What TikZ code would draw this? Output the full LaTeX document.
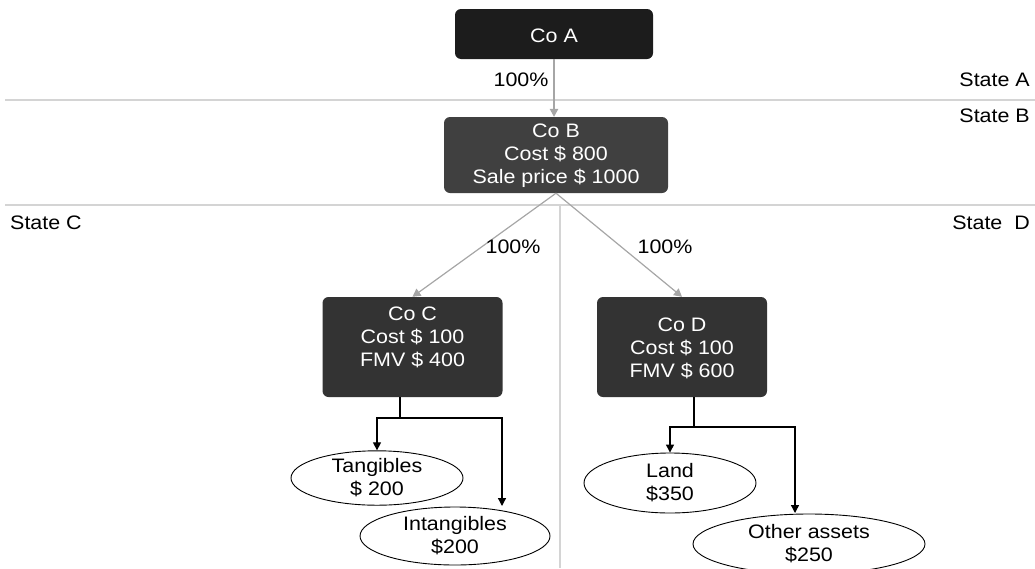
\documentclass[tikz,border=0pt]{standalone}
\usepackage{fontspec}
\setmainfont{Liberation Sans}[FakeStretch=1.1]
\usetikzlibrary{shapes.geometric,arrows.meta}
\definecolor{boxA}{HTML}{1C1C1C}
\definecolor{boxB}{HTML}{404040}
\definecolor{boxC}{HTML}{333333}
\definecolor{sepgray}{HTML}{D4D4D4}
\definecolor{arrgray}{HTML}{A6A6A6}
\begin{document}
\begin{tikzpicture}[x=1pt,y=-1pt,
  every node/.style={font=\fontsize{19.5pt}{23pt}\selectfont},
  cobox/.style={rounded corners=6pt, inner sep=0pt, draw=none},
  boxtext/.style={text=white, align=center, inner sep=0pt},
  asset/.style={ellipse, draw=black, line width=0.9pt, fill=white, inner sep=0pt, align=center},
  seprule/.style={draw=sepgray, line width=1.6pt},
  own/.style={draw=arrgray, line width=1.2pt, -{Triangle[width=8.5pt,length=8pt]}},
  split/.style={draw=black, line width=1.3pt},
  splitarrow/.style={split, -{Triangle[width=8pt,length=8pt]}},
  lbl/.style={inner sep=0pt}
]
\useasboundingbox (0,0) rectangle (1035,568);

% state borders
\coordinate (sAL) at (5,100);   \coordinate (sAR) at (1035,100);
\coordinate (sBL) at (5,205);   \coordinate (sBR) at (1035,205);
\coordinate (sCT) at (560,205); \coordinate (sCB) at (560,568);
\draw[seprule] (sAL) -- (sAR);
\draw[seprule] (sBL) -- (sBR);
\draw[seprule] (sCT) -- (sCB);

% state names
\node[lbl, anchor=east] (stA) at (1030,80) {State A};
\node[lbl, anchor=east] (stB) at (1030,116) {State B};
\node[lbl, anchor=west] (stC) at (10,223) {State C};
\node[lbl, anchor=east] (stD) at (1030,223) {State\ \ D};

% companies
\node[cobox, fill=boxA, minimum width=198pt, minimum height=50pt] (coA) at (554,34) {};
\node[boxtext] (coAt) at (554,36) {Co A};

\node[cobox, fill=boxB, minimum width=224pt, minimum height=76pt] (coB) at (556,155) {};
\node[boxtext] (coBt) at (556,156) {Co B\\Cost \$ 800\\Sale price \$ 1000};

\node[cobox, fill=boxC, minimum width=180pt, minimum height=100pt] (coC) at (412.5,347) {};
\node[boxtext] (coCt) at (412.5,337) {Co C\\Cost \$ 100\\FMV \$ 400};

\node[cobox, fill=boxC, minimum width=170pt, minimum height=100pt] (coD) at (682,347) {};
\node[boxtext] (coDt) at (682,348) {Co D\\Cost \$ 100\\FMV \$ 600};

% ownership arrows
\draw[own] (coA.south) -- (coA.south |- coB.north);
\draw[own] (coB.south) -- (coC.north);
\draw[own] (coB.south) -- (coD.north);
\node[lbl] (pAB) at (521,80) {100\%};
\node[lbl] (pBC) at (513,247) {100\%};
\node[lbl] (pBD) at (665,247) {100\%};

% assets
\node[asset, minimum width=172pt, minimum height=54pt] (tang) at (377,478) {Tangibles\\\$ 200};
\node[asset, minimum width=190pt, minimum height=58pt] (intang) at (455,536) {Intangibles\\\$200};
\node[asset, minimum width=172pt, minimum height=60pt] (land) at (670,483) {Land\\\$350};
\node[asset, minimum width=232pt, minimum height=60pt] (oth) at (809,544) {Other assets\\\$250};

% asset split of Co C
\coordinate (jC) at (400,418);
\coordinate (iTop) at (502,506);
\draw[split] (jC |- coC.south) -- (jC);
\draw[splitarrow] (jC) -| (tang.north);
\draw[splitarrow] (jC) -| (iTop);

% asset split of Co D
\coordinate (jD) at (694,427);
\coordinate (oTop) at (795,513);
\draw[split] (jD |- coD.south) -- (jD);
\draw[splitarrow] (jD) -| (land.north);
\draw[splitarrow] (jD) -| (oTop);
\end{tikzpicture}
\end{document}
